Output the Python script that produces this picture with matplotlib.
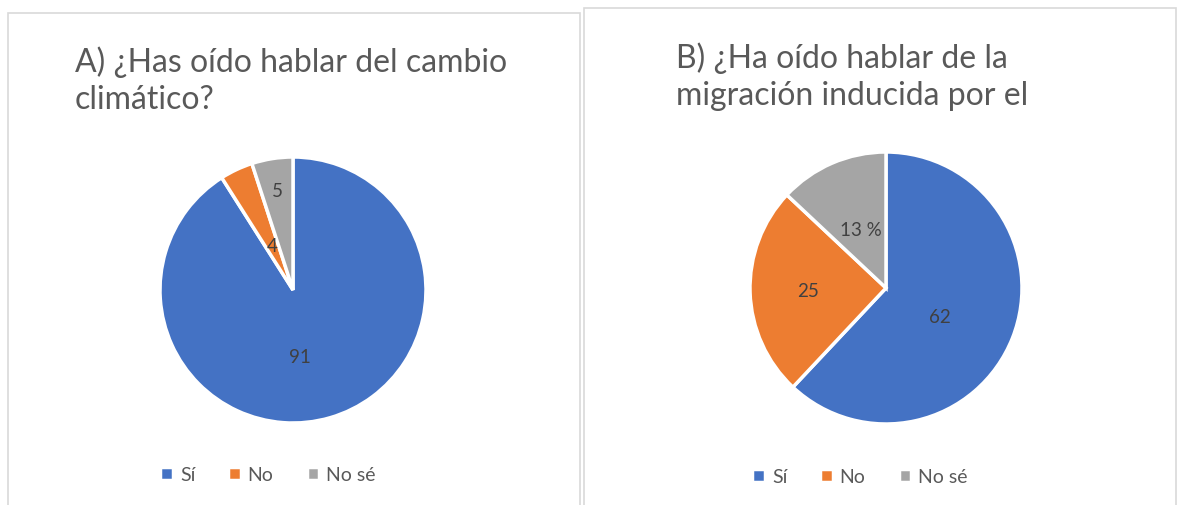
import matplotlib.pyplot as plt
from matplotlib.patches import Rectangle
import numpy as np

# Survey answers (percent)
categories = ["Sí", "No", "No sé"]
values_a = [91, 4, 5]
values_b = [62, 25, 13]
labels_a = ["91", "4", "5"]
labels_b = ["62", "25", "13 %"]
titles = ["A) ¿Has oído hablar del cambio\nclimático?",
          "B) ¿Ha oído hablar de la\nmigración inducida por el"]
colors = ["#4472C4", "#ED7D31", "#A5A5A5"]

W, H = 1181, 506
plt.rcParams["font.family"] = ["Lato", "DejaVu Sans"]
fig = plt.figure(figsize=(W / 100, H / 100), dpi=100)
TXT = "#595959"


def px(x, y):
    return x / W, 1 - y / H


def draw_panel(x0, y0, x1, y1):
    fig.patches.append(Rectangle(px(x0, y1), (x1 - x0) / W, (y1 - y0) / H,
                                 transform=fig.transFigure, fill=False,
                                 edgecolor="#d9d9d9", linewidth=1.2))


def draw_pie(values, labels, cx, cy, r, label_pos, title, tx, ty,
             leg_cx, leg_cy):
    left, bottom = px(cx - r, cy + r)
    ax = fig.add_axes([left, bottom, 2 * r / W, 2 * r / H])
    wedges, _ = ax.pie(values, colors=colors, startangle=90,
                       counterclock=False,
                       wedgeprops=dict(edgecolor="white", linewidth=2.5))
    ax.set_xlim(-1, 1)
    ax.set_ylim(-1, 1)
    ax.set_aspect("equal")
    # data labels: radius fraction and angle shift from the wedge middle
    for w, lab, (lr, da) in zip(wedges, labels, label_pos):
        ang = np.deg2rad((w.theta1 + w.theta2) / 2 + da)
        ax.text(lr * np.cos(ang), lr * np.sin(ang), lab, ha="center",
                va="center", fontsize=13.5, color="#404040")
    fx, fy = px(tx, ty)
    fig.text(fx, fy, title, fontsize=23, color=TXT, ha="left", va="top",
             linespacing=1.3)
    lx, ly = px(leg_cx, leg_cy)
    fig.legend(wedges, categories, loc="center", bbox_to_anchor=(lx, ly),
               ncol=3, frameon=False, fontsize=14, handlelength=0.65,
               handleheight=0.65, handletextpad=0.35, columnspacing=1.7,
               labelcolor=TXT)


draw_panel(8, 14, 580, 520)
draw_panel(584, 9, 1176, 520)

draw_pie(values_a, labels_a, 293, 291, 133,
         [(0.5, -10), (0.37, 0), (0.76, 0)],
         titles[0], 75, 46, 268, 476)
draw_pie(values_b, labels_b, 886, 289, 136,
         [(0.45, -6), (0.57, 0), (0.47, 0)],
         titles[1], 676, 42, 860, 478)

fig.savefig("out.png", dpi=100)
